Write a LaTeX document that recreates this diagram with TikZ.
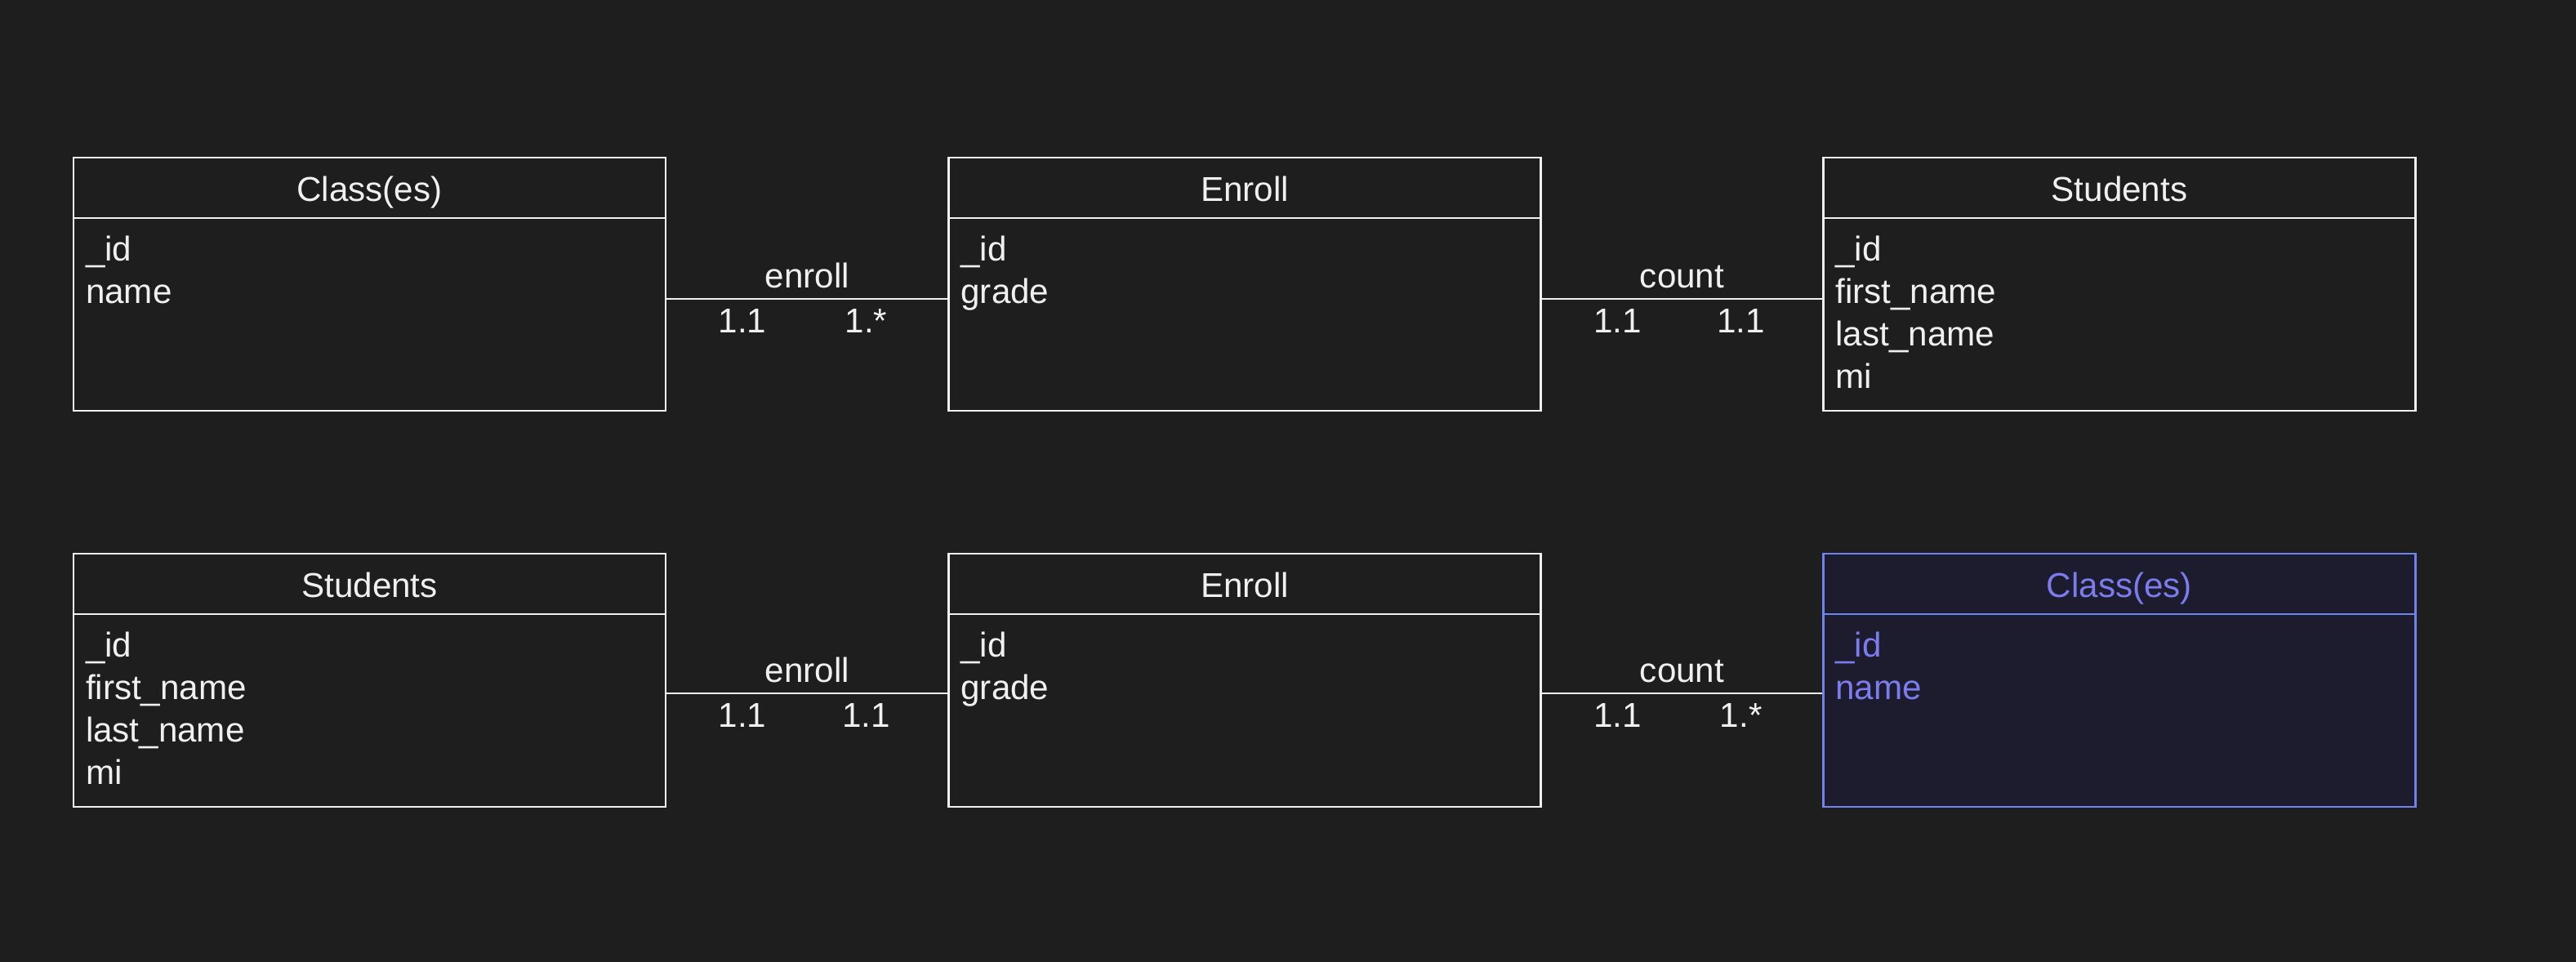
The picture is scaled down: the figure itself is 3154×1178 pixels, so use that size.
\documentclass[tikz,border=0pt]{standalone}
\usepackage{fontspec}
\setmainfont{Liberation Sans}
\usepackage{xcolor}
\usepackage{tikz}
\usetikzlibrary{calc, positioning}

\definecolor{bgcol}{RGB}{30,30,30}
\definecolor{inkcol}{RGB}{240,240,240}
\definecolor{selfill}{RGB}{28,28,46}
\definecolor{seldraw}{RGB}{112,132,240}
\definecolor{seltext}{RGB}{124,124,238}

\begin{document}
\begin{tikzpicture}[
        x=0.1mm, y=-0.1mm,
        line width=0.6pt,
        every node/.style={font=\fontsize{12}{14.8}\selectfont, text=inkcol},
        entity/.style={draw=inkcol, rectangle, inner sep=0pt,
                       minimum width=72.5mm, minimum height=31mm},
        picked/.style={draw=seldraw, fill=selfill},
        title/.style={anchor=base, inner sep=0pt},
        attrs/.style={anchor=north west, align=left, inner sep=0pt},
        rel/.style={draw=inkcol}
]

%--- canvas --------------------------------------------------
\fill[bgcol] (0,0) rectangle (3154,1178);

%--- top row: classes -> enroll -> students ------------------
\node[entity] (cls1) at (452.5,348) {};
\node[entity] (enr1) at (1524,348)  {};
\node[entity] (stu1) at (2595,348)  {};

%--- bottom row: students -> enroll -> classes ---------------
\node[entity] (stu2) at (452.5,833) {};
\node[entity] (enr2) at (1524,833)  {};
\node[entity, picked] (cls2) at (2595,833) {};

%--- header lines and titles ---------------------------------
\foreach \e/\t in {cls1/Class(es), enr1/Enroll, stu1/Students,
                   stu2/Students, enr2/Enroll}{
  \draw[inkcol] ($(\e.north west)+(0,75)$) -- ($(\e.north east)+(0,75)$);
  \node[title] at ($(\e.north)+(0,55)$) {\t};
}
\draw[seldraw] ($(cls2.north west)+(0,75)$) -- ($(cls2.north east)+(0,75)$);
\node[title, text=seltext] at ($(cls2.north)+(0,55)$) {Class(es)};

%--- attributes ----------------------------------------------
\node[attrs] at ($(cls1.north west)+(15,96)$) {\_id\\name};
\node[attrs] at ($(enr1.north west)+(15,96)$) {\_id\\grade};
\node[attrs] at ($(stu1.north west)+(15,96)$) {\_id\\first\_name\\last\_name\\mi};
\node[attrs] at ($(stu2.north west)+(15,96)$) {\_id\\first\_name\\last\_name\\mi};
\node[attrs] at ($(enr2.north west)+(15,96)$) {\_id\\grade};
\node[attrs, text=seltext] at ($(cls2.north west)+(15,96)$) {\_id\\name};

%--- relationships -------------------------------------------
\draw[rel] ([yshift=-1.8mm]cls1.east) -- ([yshift=-1.8mm]enr1.west)
      node[midway, above] {enroll}
      node[pos=0.27, below] {1.1}
      node[pos=0.71, below] {1.*};
\draw[rel] ([yshift=-1.8mm]enr1.east) -- ([yshift=-1.8mm]stu1.west)
      node[midway, above] {count}
      node[pos=0.27, below] {1.1}
      node[pos=0.71, below] {1.1};
\draw[rel] ([yshift=-1.6mm]stu2.east) -- ([yshift=-1.6mm]enr2.west)
      node[midway, above] {enroll}
      node[pos=0.27, below] {1.1}
      node[pos=0.71, below] {1.1};
\draw[rel] ([yshift=-1.6mm]enr2.east) -- ([yshift=-1.6mm]cls2.west)
      node[midway, above] {count}
      node[pos=0.27, below] {1.1}
      node[pos=0.71, below] {1.*};

\end{tikzpicture}
\end{document}
